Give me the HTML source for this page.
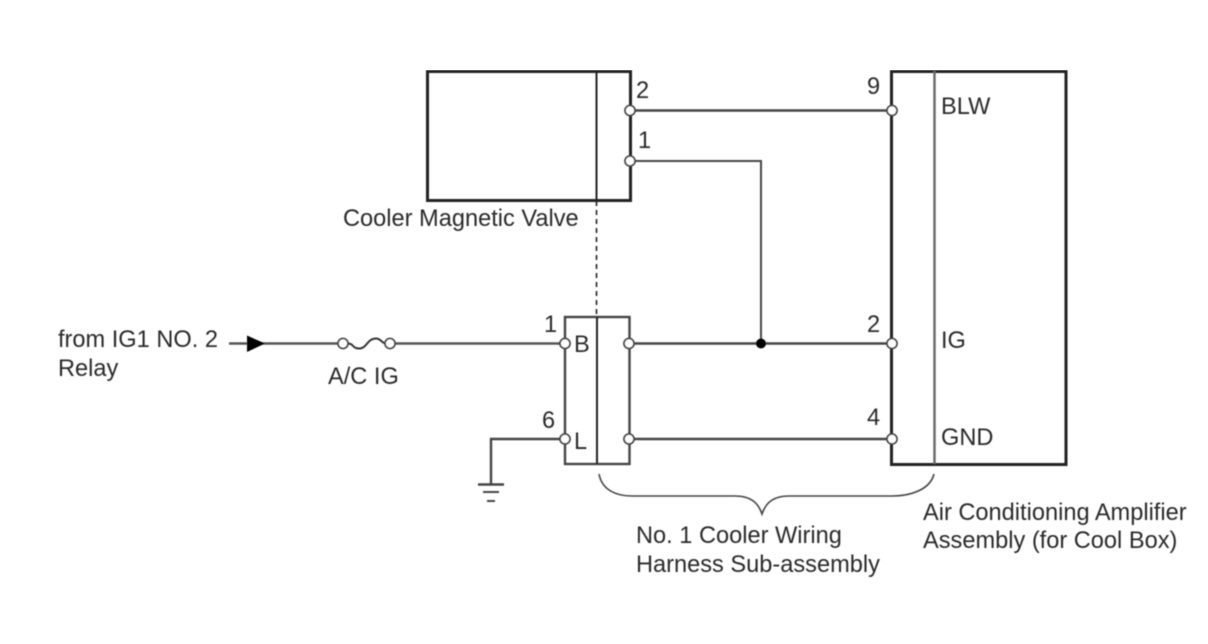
<!DOCTYPE html>
<html><head><meta charset="utf-8"><style>
html,body{margin:0;padding:0;background:#fff;width:1208px;height:644px;overflow:hidden}
svg{display:block}
text{font-family:"Liberation Sans",Arial,sans-serif;font-size:23.6px;fill:#2a2a2a}
</style></head><body>
<svg width="1208" height="644" viewBox="0 0 1208 644" xmlns="http://www.w3.org/2000/svg">
<defs><filter id="b" x="0" y="0" width="100%" height="100%"><feGaussianBlur stdDeviation="0.5"/></filter></defs>
<g filter="url(#b)">
<g fill="none" stroke="#222">
<line x1="427" y1="70" x2="631" y2="70" stroke="#bbb" stroke-width="1.500"/>
<line x1="891" y1="70" x2="1067" y2="70" stroke="#bbb" stroke-width="1.500"/>
<rect x="427.500" y="71.500" width="203" height="129" stroke-width="3"/>
<line x1="596.500" y1="71" x2="596.500" y2="201" stroke-width="2"/>
<line x1="596.500" y1="201" x2="596.500" y2="317" stroke-width="1.600" stroke-dasharray="5 4"/>
<rect x="891.500" y="71.500" width="174.500" height="393" stroke-width="3"/>
<line x1="934.500" y1="71" x2="934.500" y2="464" stroke-width="2.400" stroke="#666"/>
<rect x="565" y="317" width="64.500" height="147" stroke-width="2.400" stroke="#444"/>
<line x1="597" y1="317" x2="597" y2="464" stroke-width="2"/>
<g stroke="#444" stroke-width="2.400">
<line x1="630" y1="110.500" x2="891" y2="110.500"/>
<polyline points="630,161 761,161 761,343.500" stroke-width="2"/>
<line x1="229" y1="343.500" x2="343" y2="343.500" stroke="#555"/>
<line x1="390" y1="343.500" x2="565" y2="343.500" stroke="#555"/>
<line x1="629" y1="343.500" x2="891" y2="343.500"/>
<line x1="629" y1="439" x2="891" y2="439"/>
<polyline points="565,439 491,439 491,484"/>
<line x1="478" y1="484.500" x2="504" y2="484.500"/>
<line x1="483" y1="492" x2="499" y2="492" stroke-width="2"/>
<line x1="487" y1="501" x2="495" y2="501" stroke-width="2"/>
</g>
<path d="M599 474C602 490 616 496 632 496H735C750 496 758 502 762 514C766 502 774 496 789 496H892C910 496 930 490 934 474" stroke-width="1.600" stroke="#444"/>
<path d="M348 343.500C354 343.500 352 348.500 359 348.500C367 348.500 367 338.500 376 338.500C381 338.500 382 343.500 386 343.500" stroke-width="2" stroke="#333"/>
</g>
<path d="M247 335.500L265 343.500L247 352Z" fill="#000"/>
<circle cx="761" cy="343.500" r="5" fill="#000"/>
<g fill="#fff" stroke="#444" stroke-width="1.800">
<circle cx="630" cy="110.500" r="5"/><circle cx="630" cy="161" r="5"/>
<circle cx="892" cy="110.500" r="5"/><circle cx="892" cy="343.500" r="5"/><circle cx="892" cy="439" r="5"/>
<circle cx="565" cy="343.500" r="5"/><circle cx="565" cy="439" r="5"/>
<circle cx="629" cy="343.500" r="5"/><circle cx="629" cy="439" r="5"/>
<circle cx="343" cy="343.500" r="5"/><circle cx="390" cy="343.500" r="5"/>
</g>
<text x="636" y="98">2</text>
<text x="638" y="148">1</text>
<text x="867" y="94">9</text>
<text x="941" y="114">BLW</text>
<text x="343" y="226">Cooler Magnetic Valve</text>
<text x="58" y="347">from IG1 NO. 2</text>
<text x="58" y="376">Relay</text>
<text x="328" y="384">A/C IG</text>
<text x="544" y="332">1</text>
<text x="542" y="428">6</text>
<text x="574" y="352">B</text>
<text x="574" y="449">L</text>
<text x="867" y="332">2</text>
<text x="867" y="425">4</text>
<text x="941" y="348">IG</text>
<text x="941" y="445">GND</text>
<text x="636" y="543">No. 1 Cooler Wiring</text>
<text x="636" y="572">Harness Sub-assembly</text>
<text x="923" y="520">Air Conditioning Amplifier</text>
<text x="923" y="548">Assembly (for Cool Box)</text>
</g>
</svg>
</body></html>
